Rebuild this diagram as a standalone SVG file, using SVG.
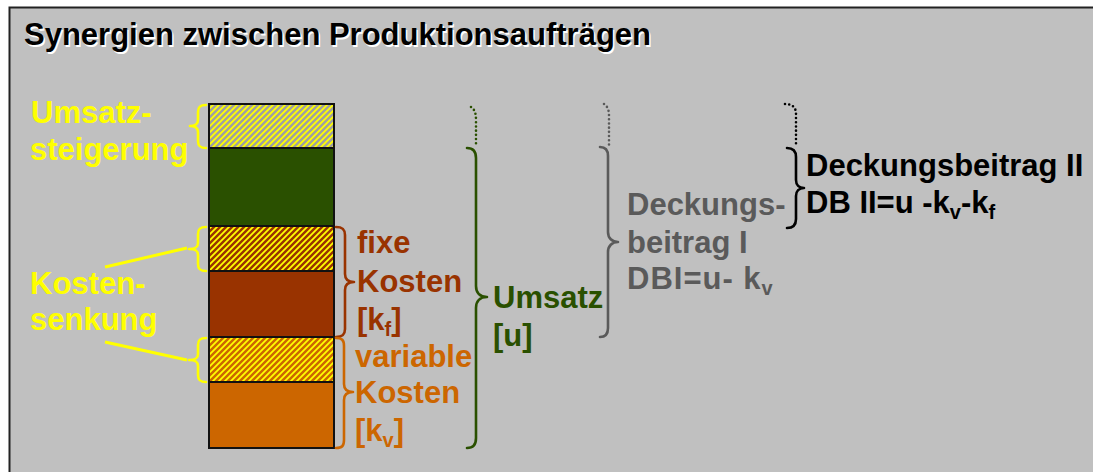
<svg xmlns="http://www.w3.org/2000/svg" width="1093" height="472" viewBox="0 0 1093 472">
<style>
text{font-family:"Liberation Sans",Arial,sans-serif;font-weight:bold;font-size:31px}
.sub{font-size:20px}
.y{fill:#FFFF00}.br{fill:#993300}.or{fill:#CC6600}.gr{fill:#2A5000}.gy{fill:#5A5A5A}.bk{fill:#000}
.brace{fill:none;stroke-width:2.6;stroke-linecap:round;stroke-linejoin:round}
.dot{fill:none;stroke-width:2.6;stroke-linecap:round;stroke-dasharray:0 4.2}
.seg{stroke:#111;stroke-width:2}
</style>
<defs>
<pattern id="hGray" patternUnits="userSpaceOnUse" width="6" height="6"><rect width="6" height="6" fill="#A0A0A0"/><path d="M-1,1 l2,-2 M0,6 l6,-6 M5,7 l2,-2" stroke="#FFFF00" stroke-width="1.8"/></pattern>
<pattern id="hBrown" patternUnits="userSpaceOnUse" width="6" height="6"><rect width="6" height="6" fill="#993300"/><path d="M-1,1 l2,-2 M0,6 l6,-6 M5,7 l2,-2" stroke="#FFFF00" stroke-width="1.8"/></pattern>
<pattern id="hOrange" patternUnits="userSpaceOnUse" width="6" height="6"><rect width="6" height="6" fill="#CC6600"/><path d="M-1,1 l2,-2 M0,6 l6,-6 M5,7 l2,-2" stroke="#FFFF00" stroke-width="1.8"/></pattern>
</defs>
<rect width="1093" height="472" fill="#FFFFFF"/>
<rect x="9.5" y="7.5" width="1100" height="500" fill="#C0C0C0" stroke="#222" stroke-width="2"/>
<g id="title">
<text x="25.5" y="46.5" fill="#FFFFFF">Synergien zwischen Produktionsaufträgen</text>
<text x="24" y="45" class="bk">Synergien zwischen Produktionsaufträgen</text>
</g>
<g id="bar">
<rect id="umsatzsteigerung-seg" class="seg" x="209" y="104" width="125" height="44" fill="url(#hGray)"/>
<rect id="db-seg" class="seg" x="209" y="148" width="125" height="78" fill="#2A5000"/>
<rect id="fix-synergy-seg" class="seg" x="209" y="226" width="125" height="45" fill="url(#hBrown)"/>
<rect id="fix-seg" class="seg" x="209" y="271" width="125" height="66" fill="#993300"/>
<rect id="var-synergy-seg" class="seg" x="209" y="337" width="125" height="45" fill="url(#hOrange)"/>
<rect id="var-seg" class="seg" x="209" y="382" width="125" height="66" fill="#CC6600"/>
</g>
<g id="label-umsatzsteigerung">
<text x="31" y="123" class="y">Umsatz-</text>
<text x="30" y="160" class="y">steigerung</text>
</g>
<g id="label-kostensenkung">
<text x="30" y="294" class="y">Kosten-</text>
<text x="30" y="330" class="y">senkung</text>
</g>
<g id="label-fixe">
<text x="357" y="253" class="br">fixe</text>
<text x="357" y="292" class="br">Kosten</text>
<text x="357" y="330" class="br">[k<tspan class="sub" dy="6">f</tspan><tspan dy="-6">]</tspan></text>
</g>
<g id="label-variable">
<text x="355" y="367" class="or">variable</text>
<text x="355" y="403" class="or">Kosten</text>
<text x="355" y="441" class="or">[k<tspan class="sub" dy="6">v</tspan><tspan dy="-6">]</tspan></text>
</g>
<g id="label-umsatz">
<text x="493" y="308" class="gr">Umsatz</text>
<text x="493" y="346" class="gr">[u]</text>
</g>
<g id="label-db1">
<text x="627" y="215" class="gy">Deckungs-</text>
<text x="627" y="253" class="gy">beitrag I</text>
<text x="627" y="289" class="gy" letter-spacing="1">DBI=u- k<tspan class="sub" dy="6">v</tspan></text>
</g>
<g id="label-db2">
<text x="806" y="176" class="bk">Deckungsbeitrag II</text>
<text x="806" y="213" class="bk">DB II=u -k<tspan class="sub" dy="6">v</tspan><tspan dy="-6">-k</tspan><tspan class="sub" dy="6">f</tspan></text>
</g>
<g id="connectors">
<path class="brace" stroke="#FFFF00" stroke-width="3" d="M206,105 C200,105 198,107 198,112 L198,120 C198,124 196,126 190,126 C196,126 198,128 198,132 L198,141 C198,146 200,148 206,148"/>
<path class="brace" stroke="#FFFF00" stroke-width="3" d="M206,227 C200,227 198,229 198,234 L198,243 C198,247 196,249 189,249 C196,249 198,251 198,255 L198,264 C198,269 200,271 206,271"/>
<path class="brace" stroke="#FFFF00" stroke-width="3" d="M206,338 C200,338 198,340 198,345 L198,354 C198,358 196,360 189,360 C196,360 198,362 198,366 L198,375 C198,380 200,382 206,382"/>
<line x1="105" y1="267" x2="187" y2="248" stroke="#FFFF00" stroke-width="3"/>
<line x1="105" y1="342" x2="187" y2="360" stroke="#FFFF00" stroke-width="3"/>
<path class="brace" stroke="#993300" d="M336,227 C342,227 345,229 345,235 L345,274 C345,279 348,282 354,282 C348,282 345,285 345,290 L345,329 C345,335 342,337 336,337"/>
<path class="brace" stroke="#CC6600" d="M336,338 C342,338 344,340 344,346 L344,384 C344,389 347,392 353,392 C347,392 344,395 344,400 L344,440 C344,446 342,448 336,448"/>
<path class="brace" stroke="#2A5000" d="M467,148 C473,148 476,151 476,158 L476,286 C476,293 480,297 487,297 C480,297 476,301 476,308 L476,438 C476,445 473,448 467,448"/>
<path class="dot" stroke="#2A5000" d="M471,107 C474,109 476,112 476,120 L476,146"/>
<path class="brace" stroke="#5A5A5A" d="M600,147 C605,147 608,150 608,156 L608,232 C608,238 612,242 618,242 C612,242 608,246 608,252 L608,328 C608,334 605,337 600,337"/>
<path class="dot" stroke="#5A5A5A" d="M604,104 C607,106 609,109 609,116 L609,146"/>
<path class="brace" stroke="#000" stroke-width="3" d="M787,148 C793,148 796,151 796,157 L796,180 C796,185 799,188 804,188 C799,188 796,191 796,196 L796,219 C796,225 793,228 787,228"/>
<path class="dot" stroke="#000" d="M785,104 C792,104 796,107 796,114 L796,146"/>
</g>
</svg>
